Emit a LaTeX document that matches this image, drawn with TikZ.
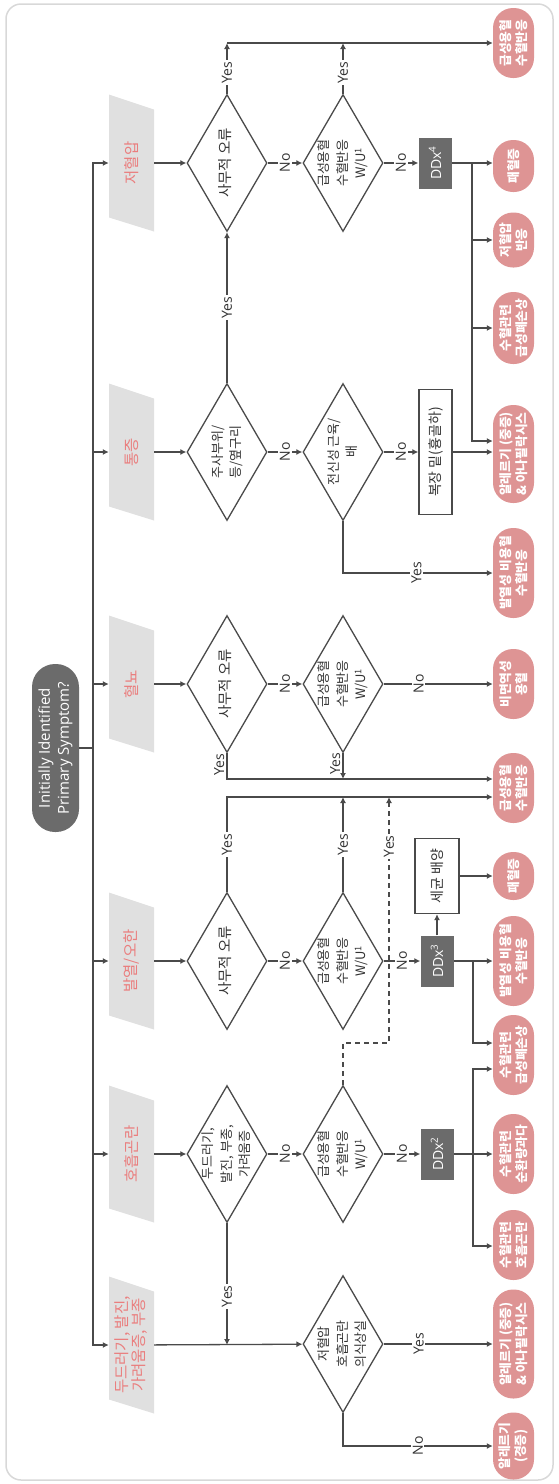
\documentclass[tikz,border=0pt]{standalone}
\usepackage{fontspec}
\setmainfont{Open Sans}
\newfontfamily\kr{Noto Sans CJK KR}
\usetikzlibrary{shapes.geometric,arrows.meta,calc}
\definecolor{ln}{HTML}{4A4A4A}
\definecolor{tx}{HTML}{333333}
\definecolor{pk}{HTML}{DE9494}
\definecolor{pktxt}{HTML}{EA7E7E}
\definecolor{parfill}{HTML}{E0E0E0}
\definecolor{ddxfill}{HTML}{6B6B6B}
\definecolor{framec}{HTML}{D8D8D8}
\newcommand\mypar[4]{%
  \fill[parfill] (#2-22.5,#3-68.5) -- (#2+22.5,#3-53.5) -- (#2+22.5,#3+68.5) -- (#2-22.5,#3+54.5) -- cycle;
  \node[parnode] (#1) at (#2,#3) {#4};}
\newcommand\dtext[1]{\smash{\makebox[0pt]{\raisebox{-0.28em}{\begin{tabular}[c]{@{}c@{}}#1\end{tabular}}}}}
\begin{document}
\begin{tikzpicture}[x=1pt,y=-1pt,
  line/.style={draw=ln, line width=1.3pt},
  arr/.style={line, -{Latex[length=6pt,width=6pt]}},
  dia/.style={diamond, draw=ln, line width=1.3pt, rotate=90, minimum width=137pt, minimum height=80pt, inner sep=0pt, align=center, text=tx, font=\kr\fontsize{13}{18.5}\selectfont},
  big/.style={font=\kr\fontsize{14.5}{17}\selectfont},
  parnode/.style={rectangle, rotate=90, minimum width=123pt, minimum height=45pt, inner sep=0pt, align=center, text=pktxt, font=\kr\fontsize{15.5}{17}\selectfont},
  pill/.style={rectangle, rounded corners=20pt, fill=pk, text=white, rotate=90, minimum height=41pt, inner sep=0pt, align=center, font=\kr\bfseries\fontsize{12.8}{16}\selectfont},
  ddx/.style={rectangle, fill=ddxfill, text=white, rotate=90, minimum width=51pt, minimum height=33pt, inner sep=0pt, font=\fontsize{14}{15}\selectfont},
  wbox/.style={rectangle, draw=ln, line width=1.3pt, fill=white, rotate=90, inner sep=0pt, text=tx, font=\kr\fontsize{14}{16}\selectfont},
  lab/.style={fill=white, rotate=90, inner sep=1.5pt, text=tx, font=\fontsize{14}{15}\selectfont},
  labside/.style={rotate=90, anchor=south, inner sep=2pt, text=tx, font=\fontsize{14}{15}\selectfont},
  startn/.style={rectangle, rounded corners=23pt, fill=ddxfill, text=white, rotate=90, minimum width=168pt, minimum height=47pt, inner sep=0pt, align=center, font=\fontsize{15}{19}\selectfont}
]
\useasboundingbox (0,0) rectangle (558,1484);
\draw[framec, line width=1.5pt, rounded corners=15pt] (6,4) rectangle (553,1480);

% start and parallelograms
\node[startn] (start) at (55.5,748) {Initially Identified\\Primary Symptom?};
\mypar{par1}{131.5}{163}{저혈압}
\mypar{par2}{131.5}{452}{통증}
\mypar{par3}{131.5}{684}{혈뇨}
\mypar{par4}{131.5}{961}{발열/오한}
\mypar{par5}{131.5}{1154}{호흡곤란}
\mypar{par6}{131.5}{1345}{두드러기, 발진,\\가려움증, 부종}

% diamonds
\node[dia, big] (d11) at (227,163) {\dtext{사무적 오류}};
\node[dia] (d12) at (343,163) {\dtext{급성용혈\\수혈반응\\W/U\textsuperscript{1}}};
\node[dia] (d21) at (227,452) {\dtext{주사부위/\\등/옆구리}};
\node[dia] (d22) at (343,452) {\dtext{전신성 근육/\\배}};
\node[dia, big] (d31) at (227,684) {\dtext{사무적 오류}};
\node[dia] (d32) at (343,684) {\dtext{급성용혈\\수혈반응\\W/U\textsuperscript{1}}};
\node[dia, big] (d41) at (227,961) {\dtext{사무적 오류}};
\node[dia] (d42) at (343,961) {\dtext{급성용혈\\수혈반응\\W/U\textsuperscript{1}}};
\node[dia] (d51) at (227,1154) {\dtext{두드러기,\\발진, 부종,\\가려움증}};
\node[dia] (d52) at (343,1154) {\dtext{급성용혈\\수혈반응\\W/U\textsuperscript{1}}};
\node[dia] (d62) at (343,1344) {\dtext{저혈압\\호흡곤란\\의식상실}};

% boxes
\node[ddx] (ddx4) at (435,163) {DDx\textsuperscript{4}};
\node[wbox, minimum width=125pt, minimum height=33pt] (bbox) at (435.5,452) {복장 밑(흉골하)};
\node[ddx] (ddx3) at (437,961) {DDx\textsuperscript{3}};
\node[wbox, minimum width=75pt, minimum height=44pt] (bact) at (437,876) {세균 배양};
\node[ddx] (ddx2) at (437,1154) {DDx\textsuperscript{2}};

% pills
\node[pill, minimum width=70pt] (ptop) at (513.5,43) {급성용혈\\수혈반응};
\node[pill, minimum width=52pt] (pSep1) at (513.5,166) {패혈증};
\node[pill, minimum width=55pt] (pLow1) at (513.5,240) {저혈압\\반응};
\node[pill, minimum width=72pt] (pLung1) at (513.5,328) {수혈관련\\급성폐손상};
\node[pill, minimum width=98pt] (pAll1) at (513.5,454) {알레르기 (중증)\\\& 아나필락시스};
\node[pill, minimum width=90pt] (pFev1) at (513.5,573) {발열성 비용혈\\수혈반응};
\node[pill, minimum width=70pt] (pNon) at (513.5,684) {비면역성\\용혈};
\node[pill, minimum width=70pt] (pAcu2) at (513.5,788) {급성용혈\\수혈반응};
\node[pill, minimum width=48pt] (pSep2) at (513.5,876) {패혈증};
\node[pill, minimum width=90pt] (pFev2) at (513.5,961) {발열성 비용혈\\수혈반응};
\node[pill, minimum width=80pt] (pLung2) at (513.5,1055) {수혈관련\\급성폐손상};
\node[pill, minimum width=80pt] (pCirc) at (513.5,1154) {수혈관련\\순환량과다};
\node[pill, minimum width=70pt] (pResp) at (513.5,1245) {수혈관련\\호흡곤란};
\node[pill, minimum width=109pt] (pAll2) at (513.5,1344) {알레르기 (중증)\\\& 아나필락시스};
\node[pill, minimum width=67pt] (pMild) at (513.5,1446) {알레르기\\(경증)};

% trunk
\coordinate (tr1) at (93,163);
\coordinate (tr2) at (93,452);
\coordinate (tr3) at (93,684);
\coordinate (trS) at (93,748);
\coordinate (tr4) at (93,961);
\coordinate (tr5) at (93,1154);
\coordinate (tr6) at (93,1345);
\draw[line] (start) -- (trS);
\draw[arr] (trS) -- (tr1) -- (par1);
\draw[arr] (trS) -- (tr6) -- (par6);
\draw[arr] (tr2) -- (par2);
\draw[arr] (tr3) -- (par3);
\draw[arr] (tr4) -- (par4);
\draw[arr] (tr5) -- (par5);

% row 1
\coordinate (y11) at (227,43);
\coordinate (y12) at (343,43);
\draw[arr] (par1) -- (d11);
\draw[arr] (d11) -- node[lab]{No} (d12);
\draw[arr] (d12) -- node[lab]{No} (ddx4);
\draw[arr] (d11) -- node[lab,pos=0.42]{Yes} (y11);
\draw[arr] (d12) -- node[lab,pos=0.42]{Yes} (y12);
\draw[arr] (y11) -- (ptop);
\coordinate (j1a) at (472,163);
\coordinate (j1b) at (472,441);
\draw[arr] (ddx4) -- (pSep1.north |- ddx4);
\draw[arr] (j1a) |- (pLow1);
\draw[arr] (j1a) |- (pLung1);
\draw[arr] (j1a) -- (j1b) -- (pAll1.north |- j1b);

% row 2
\coordinate (c22) at (343,573);
\draw[arr] (par2) -- (d21);
\draw[arr] (d21) -- node[lab]{No} (d22);
\draw[arr] (d22) -- node[lab]{No} (bbox);
\draw[arr] (bbox) -- (pAll1.north |- bbox);
\draw[arr] (d21) -- node[lab]{Yes} (d11);
\draw[arr] (d22) -- (c22) -- node[lab,pos=0.49]{Yes} (pFev1.north |- c22);

% row 3
\coordinate (c31) at (227,779);
\coordinate (c32) at (343,779);
\draw[arr] (par3) -- (d31);
\draw[arr] (d31) -- node[lab]{No} (d32);
\draw[arr] (d32) -- node[lab,pos=0.32]{No} (pNon);
\draw[arr] (d31) -- node[labside,pos=0.45]{Yes} (c31) -- (pAcu2.north |- c31);
\draw[arr] (d32) -- node[labside,pos=0.4]{Yes} (c32);

% row 4
\coordinate (c41) at (227,797);
\coordinate (c42) at (343,797);
\coordinate (c43) at (389,797);
\coordinate (c52a) at (343,1043);
\coordinate (c52b) at (389,1043);
\draw[arr] (par4) -- (d41);
\draw[arr] (d41) -- node[lab]{No} (d42);
\draw[arr] (d42) -- node[lab]{No} (ddx3);
\draw[arr] (d41) -- node[lab,pos=0.5]{Yes} (c41) -- (pAcu2.north |- c41);
\draw[arr] (d42) -- node[lab,pos=0.5]{Yes} (c42);
\draw[arr, dash pattern=on 5pt off 4pt] (d52) -- (c52a) -- (c52b) -- node[lab,pos=0.8]{Yes} (c43);
\draw[arr] (ddx3) -- (bact);
\draw[arr] (bact) -- (pSep2.north |- bact);
\coordinate (j3a) at (473,961);
\coordinate (j3b) at (473,1043);
\draw[arr] (ddx3) -- (pFev2);
\draw[arr] (j3a) -- (j3b) -- (pLung2.north |- j3b);

% row 5
\coordinate (c51) at (227,1345);
\coordinate (j2m) at (473,1154);
\coordinate (j2a) at (473,1069);
\coordinate (j2b) at (473,1246);
\draw[arr] (par5) -- (d51);
\draw[arr] (d51) -- node[lab]{No} (d52);
\draw[arr] (d52) -- node[lab]{No} (ddx2);
\draw[arr] (d51) -- node[lab,pos=0.6]{Yes} (c51);
\draw[arr] (ddx2) -- (pCirc);
\draw[arr] (j2m) -- (j2a) -- (pLung2.north |- j2a);
\draw[arr] (j2m) -- (j2b) -- (pResp.north |- j2b);

% row 6
\coordinate (c62) at (343,1446);
\draw[arr] (par6) -- (d62);
\draw[arr] (d62) -- node[lab,pos=0.32]{Yes} (pAll2);
\draw[arr] (d62) -- (c62) -- node[lab,pos=0.5]{No} (pMild.north |- c62);
\end{tikzpicture}
\end{document}
